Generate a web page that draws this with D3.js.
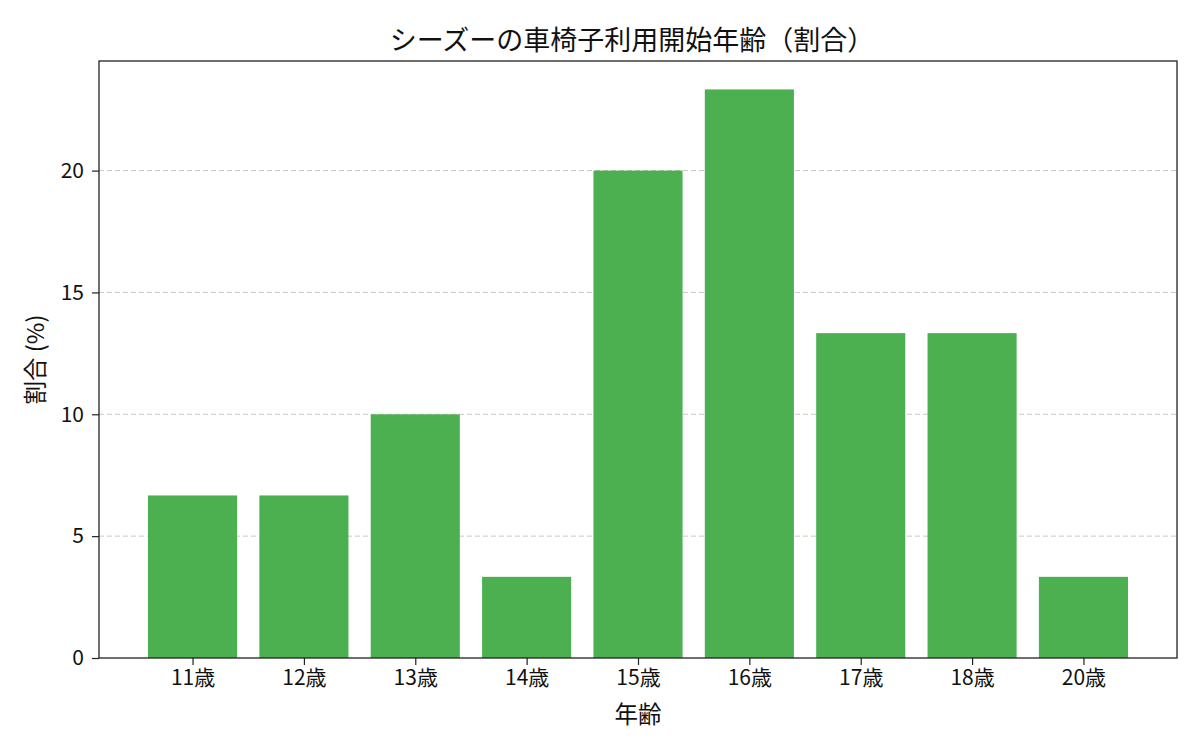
<!DOCTYPE html>
<html>
<head>
<meta charset="utf-8">
<script src="https://cdn.jsdelivr.net/npm/d3@7"></script>
<style>
  body { margin: 0; background: #fff; }
  svg text { font-family: "Noto Sans CJK JP", "Noto Sans", sans-serif; fill: #111; }
</style>
</head>
<body>
<svg id="chart" width="1200" height="750"></svg>
<script>
// data
const ages = ['11歳', '12歳', '13歳', '14歳', '15歳', '16歳', '17歳', '18歳', '20歳'];
const shares = [6.67, 6.67, 10, 3.33, 20, 23.33, 13.33, 13.33, 3.33];
const yTicks = [0, 5, 10, 15, 20];

const width = 1200, height = 750;
const margin = { top: 61, right: 23, bottom: 92, left: 99 };
const svg = d3.select('#chart');

const x = d3.scaleLinear()
    .domain([-0.84, ages.length - 1 + 0.84])
    .range([margin.left, width - margin.right]);

const y = d3.scaleLinear()
    .domain([0, d3.max(shares) * 1.05])
    .range([height - margin.bottom, margin.top]);

// grid
svg.append('g')
    .selectAll('line')
    .data(yTicks.filter(d => d > 0))
    .join('line')
    .attr('x1', margin.left)
    .attr('x2', width - margin.right)
    .attr('y1', d => y(d))
    .attr('y2', d => y(d))
    .attr('stroke', '#b0b0b0')
    .attr('stroke-opacity', 0.7)
    .attr('stroke-dasharray', '5,3')
    .attr('stroke-width', 1);

// bars
const data = ages.map((a, i) => ({ a, i, v: shares[i] }));
svg.append('g')
    .selectAll('rect')
    .data(data)
    .join('rect')
    .attr('x', d => x(d.i - 0.4))
    .attr('y', d => y(d.v))
    .attr('width', d => x(d.i + 0.4) - x(d.i - 0.4))
    .attr('height', d => y(0) - y(d.v))
    .attr('fill', '#4caf50');

// frame
svg.append('rect')
    .attr('x', margin.left)
    .attr('y', margin.top)
    .attr('width', width - margin.left - margin.right)
    .attr('height', height - margin.top - margin.bottom)
    .attr('fill', 'none')
    .attr('stroke', '#222')
    .attr('stroke-width', 1.3);

// axes
const xAxis = svg.append('g')
    .attr('transform', `translate(0,${height - margin.bottom})`)
    .call(d3.axisBottom(x).tickValues(d3.range(ages.length)).tickFormat(i => ages[i]).tickSize(7).tickPadding(5).tickSizeOuter(0));
xAxis.select('.domain').remove();
xAxis.selectAll('line').attr('stroke', '#222').attr('stroke-width', 1.2);
xAxis.selectAll('text').attr('font-size', 21).attr('fill', '#111');

const yAxis = svg.append('g')
    .attr('transform', `translate(${margin.left},0)`)
    .call(d3.axisLeft(y).tickValues(yTicks).tickSize(7).tickPadding(8).tickSizeOuter(0));
yAxis.select('.domain').remove();
yAxis.selectAll('line').attr('stroke', '#222').attr('stroke-width', 1.2);
yAxis.selectAll('text').attr('font-size', 21).attr('fill', '#111');

// labels
svg.append('text')
    .attr('x', 632)
    .attr('y', 50)
    .attr('text-anchor', 'middle')
    .attr('font-size', 27)
    .text('シーズーの車椅子利用開始年齢（割合）');

svg.append('text')
    .attr('x', (margin.left + width - margin.right) / 2)
    .attr('y', 723)
    .attr('text-anchor', 'middle')
    .attr('font-size', 23.5)
    .text('年齢');

svg.append('text')
    .attr('transform', `translate(44,${(margin.top + height - margin.bottom) / 2}) rotate(-90)`)
    .attr('text-anchor', 'middle')
    .attr('font-size', 23.5)
    .text('割合 (%)');
</script>
</body>
</html>
